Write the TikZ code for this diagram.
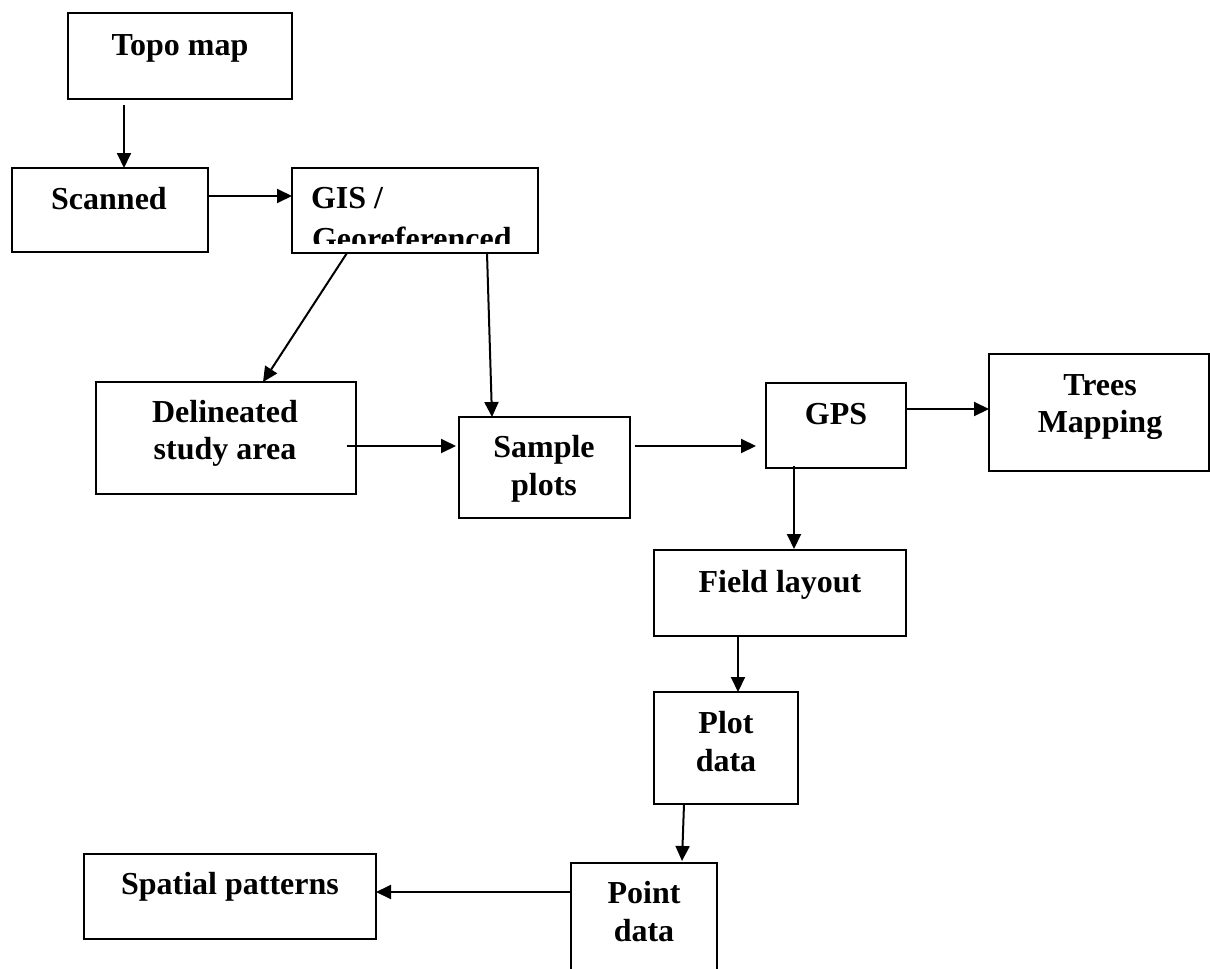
\documentclass[tikz,border=0pt]{standalone}
\usepackage{fontspec}
\setmainfont{Liberation Serif}
\usetikzlibrary{arrows.meta,calc}
\begin{document}
\begin{tikzpicture}[x=1pt,y=-1pt,
  box/.style={draw, line width=2pt, inner sep=0pt, outer sep=0pt, rectangle},
  lbl/.style={inner sep=0pt, outer sep=0pt, anchor=base, font=\bfseries\fontsize{32}{37}\selectfont},
  arr/.style={line width=2pt, -{Triangle[length=15pt,width=14pt]}}]
\useasboundingbox (0,0) rectangle (1210,969);
% boxes
\node[box, minimum width=224pt, minimum height=86pt] (topo) at (180,56) {};
\node[box, minimum width=196pt, minimum height=84pt] (scan) at (110,210) {};
\node[box, minimum width=246pt, minimum height=85pt] (gis) at (415,210.5) {};
\node[box, minimum width=260pt, minimum height=112pt] (delin) at (226,438) {};
\node[box, minimum width=171pt, minimum height=101pt] (sample) at (544.5,467.5) {};
\node[box, minimum width=140pt, minimum height=85pt] (gps) at (836,425.5) {};
\node[box, minimum width=220pt, minimum height=117pt] (trees) at (1099,412.5) {};
\node[box, minimum width=252pt, minimum height=86pt] (field) at (780,593) {};
\node[box, minimum width=144pt, minimum height=112pt] (plot) at (726,748) {};
\node[box, minimum width=292pt, minimum height=85pt] (spatial) at (230,896.5) {};
\node[inner sep=0pt, outer sep=0pt, minimum width=146pt, minimum height=106pt] (point) at (644,916) {};
\draw[line width=2pt] (point.south west) -- (point.north west) -- (point.north east) -- (point.south east);
% labels
\node[lbl] (topoT) at (180,55) {Topo map};
\node[lbl] (scanT) at (109,209) {Scanned};
\node[lbl, anchor=base west] (gisT1) at (311,208) {GIS /};
\begin{scope}
  \clip (293,169) rectangle (537,243);
  \node[lbl, anchor=base west] (gisT2) at (312,249) {Georeferenced};
\end{scope}
\node[lbl] (delinT1) at (225,422) {Delineated};
\node[lbl] (delinT2) at (225,459) {study area};
\node[lbl] (sampleT1) at (544,457) {Sample};
\node[lbl] (sampleT2) at (544,495) {plots};
\node[lbl] (gpsT) at (836,424) {GPS};
\node[lbl] (treesT1) at (1100,395) {Trees};
\node[lbl] (treesT2) at (1100,432) {Mapping};
\node[lbl] (fieldT) at (780,592) {Field layout};
\node[lbl] (plotT1) at (726,733) {Plot};
\node[lbl] (plotT2) at (726,771) {data};
\node[lbl] (pointT1) at (644,903) {Point};
\node[lbl] (pointT2) at (644,941) {data};
\node[lbl] (spatialT) at (230,894) {Spatial patterns};
% connectors
\draw[arr] ($(topo.south)+(-56,6)$) -- ($(scan.north)+(14,0)$);
\draw[arr] ($(scan.east)+(0,-14)$) -- ($(gis.west)+(0,-14.5)$);
\draw[arr] ($(gis.south)+(-68,0)$) -- ($(delin.north)+(37,0)$);
\draw[arr] ($(gis.south)+(72,0)$) -- ($(sample.north)+(-52.5,0)$);
\draw[arr] ($(delin.east)+(-9,8)$) -- ($(sample.west)+(-3,-21.5)$);
\draw[arr] ($(sample.east)+(5,-21.5)$) -- ($(gps.west)+(-10,20.5)$);
\draw[arr] ($(gps.east)+(0,-16.5)$) -- ($(trees.west)+(0,-3.5)$);
\draw[arr] ($(gps.south)+(-42,-2)$) -- ($(field.north)+(14,-1)$);
\draw[arr] ($(field.south)+(-42,0)$) -- ($(plot.north)+(12,0)$);
\draw[arr] ($(plot.south)+(-42,0)$) -- ($(point.north)+(38,-2)$);
\draw[arr] ($(point.west)+(0,-24)$) -- ($(spatial.east)+(0,-4.5)$);
\end{tikzpicture}
\end{document}
